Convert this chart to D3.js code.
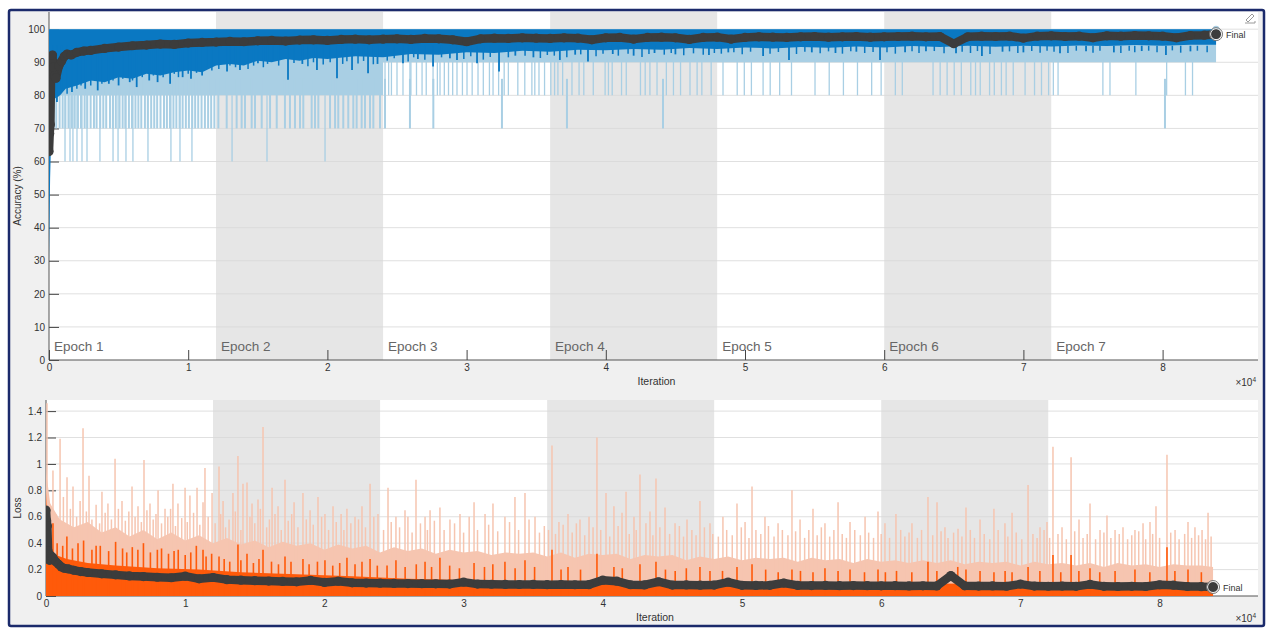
<!DOCTYPE html>
<html><head><meta charset="utf-8">
<script src="https://cdn.jsdelivr.net/npm/d3@7"></script>
<style>
body{margin:0;background:#fff;}
svg{display:block;font-family:"Liberation Sans",Arial,Helvetica,sans-serif;}
</style>
</head><body>
<svg id="c" width="1273" height="632"></svg>
<script>
// ---------------- DATA ----------------
const epochLen = 12000;
const epochStarts = [0, 12000, 24000, 36000, 48000, 60000, 72000];
const epochNames = ["Epoch 1","Epoch 2","Epoch 3","Epoch 4","Epoch 5","Epoch 6","Epoch 7"];
const shadedEpochs = [1, 3, 5];
const finalIter = 83840;
const xTickVals = [0, 10000, 20000, 30000, 40000, 50000, 60000, 70000, 80000];
const accTicks = [0, 10, 20, 30, 40, 50, 60, 70, 80, 90, 100];
const lossTicks = [0, 0.2, 0.4, 0.6, 0.8, 1, 1.2, 1.4];

// Raw mini-batch accuracy: dense floor per epoch and individual drops
const accRawFloor = [80, 80, 90, 90, 90, 90, 90];
const accRawDip70 = [120,330,520,760,980,1180,1400,1640,1850,2080,2300,2560,2750,2990,3230,3420,3680,3900,4110,4380,4590,4800,5070,5290,5480,5740,5960,6210,6420,6630,6890,7100,7340,7560,7770,8010,8260,8470,8690,8940,9150,9380,9600,9830,10050,10290,10500,10720,10960,11200,11430,11650,11880,
 12165,12765,13480,13840,14080,14560,14800,15280,15880,16360,16950,17310,17670,18030,18270,18870,19110,19350,20190,20550,20780,21140,21500,21860,22100,22460,22700,23060,23300,23780,
 24140,25930,27610,32540,37210,44110,80170];
const accRawDip60 = [1150,1510,1720,2010,2370,2730,3660,4600,4960,5530,6030,7110,8760,9410,10270,13150,15660,19830];
const accRawDip80 = [24140,24400,24600,25000,25430,25930,26000,26400,26800,27100,27590,27900,28090,28400,28700,29000,29310,29700,30030,30400,30820,31200,31640,31900,32300,32700,33000,33680,34180,34690,34900,35200,35600,
 36050,36320,36560,36900,37570,38080,38420,39100,39950,40190,40460,41130,41470,42490,42830,43170,43680,44350,44860,45370,46050,46560,46900,47570,
 48420,49440,49950,50460,51300,51810,52490,53340,55030,56050,57070,58080,59100,59780,60800,61300,63510,64020,64520,65030,65540,66220,66560,66900,67570,67910,68420,68760,69270,70120,70800,71300,71810,72150,72490,75710,76220,78080,80290,81640,82150];

// Smoothed training accuracy: lower edge, deep dips and shallow dips
const accSmoothBaseIter = [0,80,200,400,800,1200,2000,3000,4000,5000,6000,7000,8000,9000,10000,11000,12000,13000,14000,15000,16000,17000,18000,19000,20000,22000,24000,26000,28000,30000,32000,34000,36000,38000,40000,42000,44000,46000,48000,50000,52000,54000,56000,58000,60000,62000,64000,66000,68000,70000,72000,74000,76000,78000,80000,82000,83840];
const accSmoothBase = [30,55,75,79,80,82,83,84.5,84,85.5,85,86.5,86,87,87.5,87,89,89.5,89,90.5,90,91,90.5,91.3,91,91.8,91.5,92.5,92.3,93,92.8,93.5,93.2,93.8,93.6,94,93.8,94.3,94,94.5,94.2,94.6,94.4,94.8,94.5,94.9,94.6,95,94.7,95,94.8,95.1,94.9,95.2,95,95.3,95.3];
const accSmoothDipIter = [570,1650,2600,3500,4300,5000,5800,6300,7200,7800,8700,9600,10200,11000,11350,12790,13720,15010,16090,17170,18200,19250,20690,21770,22920,23600,25430,26500,27590,28800,29310,30750,32330,33500,34800,36700,37800,38720,40500,42000,43500,45000,47410,48800,51300,53160,54800,56500,58000,59700,61500,63000,65160,67020,68500,70000,72630,74500,76500,78500,80240,82000];
const accSmoothDip = [78,81,82,81.5,83.5,83,84,82.5,84.5,84,83.5,85.5,85,86,88.7,87.2,87.7,89.7,90.7,84.7,89.5,87.7,85.2,87.7,86.7,89.5,89.7,91,88.7,91.2,90.7,89.7,87.2,92,91.5,90.7,92.3,90.2,92.5,92,92.8,92.4,92.2,93,91.9,90.7,93,92.8,93.2,90.7,93,93.3,92.7,91.9,93.2,93,92.7,93.3,93,93.4,92.2,93.3];
const accSmoothNickIter = [300,900,1300,2000,2300,3000,3800,4600,5300,6000,6700,7500,8200,9000,9300,10000,10600,11700,
 12200,13000,13400,14300,14700,15400,15700,16500,17600,18600,19000,19700,20200,21100,21400,22200,22600,23300,
 24300,24800,25800,26200,27000,28200,29800,30300,31200,31700,33000,34200,35300,35800,
 36300,37200,38200,39300,39800,40900,41600,42600,43100,44200,44700,45600,46300,47000,47800,
 48300,49200,49800,50400,51800,52400,53700,54300,55400,56000,57000,57600,58600,59200,
 60200,60800,62000,62500,63600,64300,65600,66200,66700,67600,69000,69600,70600,71200,71700,
 72200,73200,73800,75000,75500,77000,77600,78000,79000,79600,80700,81300,82500,83200];
const accSmoothNick = [80,82,80.5,82,83,83,83.5,84.5,85,84.5,85.5,86,85.5,86.5,85.5,86.5,86.8,87.5,
 88,89,88.5,88,89,88.5,89.5,89,89.8,88.8,90,89.3,90,89.5,90.3,89.6,90.4,89.4,
 90.5,91.2,90.2,91.5,90.8,91.5,91,91.8,90.8,91.6,91.5,92,91.3,92.2,
 92,91.5,92.4,91.8,92.6,92,92.6,91.6,92.5,92.3,92.8,92.1,92.7,92.3,92.8,
 92.6,93,92.4,93.2,92.6,93.1,92.5,93.2,92.7,93.3,92.6,93.3,92.8,93.1,
 93,92.6,93.3,92.8,93.4,92.7,93.2,92.8,93.4,92.5,93.3,92.8,93.4,92.9,93.5,
 93.2,92.8,93.5,92.9,93.5,92.8,93.5,93,93.5,93,93.6,92.9,93.5,93];

// Validation (shared iterations)
const valIter = [0,50,100,150,200,250,300,400,500,700,900,1100,1300,1600,2000,2500,3000,
 4000,5000,6000,7000,8000,9000,10000,11000,12000,13000,14000,15000,16000,17000,18000,19000,20000,21000,22000,23000,
 24000,25000,26000,27000,28000,29000,30000,31000,32000,33000,34000,35000,36000,37000,38000,39000,40000,41000,42000,43000,
 44000,45000,46000,47000,48000,49000,50000,51000,52000,53000,54000,55000,56000,57000,58000,59000,60000,61000,62000,63000,
 64000,65000,66000,67000,68000,69000,70000,71000,72000,73000,74000,75000,76000,77000,78000,79000,80000,81000,82000,83000,83840];
const valAcc = [63,68.5,71.2,86.7,90.5,92.2,88.5,86,85.2,88.8,90.3,91.8,92.5,92.2,93,93.4,93.6,
 94.2,94.6,95,95.2,95.5,95.4,95.8,96,96.1,96.3,96.2,96.5,96.6,96.4,96.7,96.8,96.6,96.9,97,96.8,
 97,97.1,96.9,97.2,97.1,96.8,96.2,97.1,97.3,97.2,97.4,97.3,97.2,97.4,97.3,96.8,97.4,97.5,97,97.5,
 97.6,97.4,96.9,97.5,97.6,97,97.5,97.7,97.6,97.5,97.7,97.8,97.6,97.7,97.8,97.6,97.7,97.8,97.9,97.7,
 97.8,95.6,97.7,97.9,97.8,97.9,97.3,97.9,98,97.8,97.9,97.4,98,97.9,98.1,98,97.9,97.4,98.1,98.2,98.5];
const valLoss = [0.65,0.57,0.53,0.34,0.3,0.27,0.31,0.3,0.29,0.26,0.24,0.22,0.21,0.205,0.195,0.185,0.178,
 0.168,0.16,0.152,0.147,0.142,0.138,0.15,0.13,0.14,0.124,0.12,0.116,0.113,0.11,0.107,0.118,0.103,0.112,0.1,0.098,
 0.097,0.095,0.094,0.093,0.092,0.09,0.105,0.09,0.089,0.088,0.087,0.088,0.086,0.087,0.085,0.086,0.12,0.112,0.085,0.084,
 0.108,0.083,0.084,0.082,0.083,0.105,0.081,0.08,0.081,0.098,0.08,0.079,0.08,0.078,0.079,0.078,0.077,0.078,0.076,0.077,
 0.076,0.155,0.077,0.075,0.076,0.074,0.09,0.075,0.074,0.075,0.073,0.088,0.073,0.072,0.073,0.072,0.085,0.082,0.072,0.071,0.068];

// Raw mini-batch loss: dense envelope, tall spikes and medium spikes
const lossRawBaseIter = [0,300,1000,2000,3000,4000,5000,6000,7000,8000,9000,10000,11000,12000,13000,14000,15000,16000,17000,18000,19000,20000,21000,22000,23000,24000,25000,26000,27000,28000,29000,30000,31000,32000,33000,34000,35000,36000,37000,38000,39000,40000,41000,42000,43000,44000,45000,46000,47000,48000,49000,50000,51000,52000,53000,54000,55000,56000,57000,58000,59000,60000,61000,62000,63000,64000,65000,66000,67000,68000,69000,70000,71000,72000,73000,74000,75000,76000,77000,78000,79000,80000,81000,82000,83000,83840];
const lossRawBase = [0.95,0.7,0.58,0.52,0.56,0.48,0.52,0.45,0.5,0.43,0.48,0.42,0.46,0.4,0.44,0.39,0.42,0.37,0.41,0.38,0.4,0.35,0.39,0.36,0.38,0.33,0.37,0.34,0.36,0.32,0.35,0.33,0.34,0.31,0.33,0.32,0.33,0.3,0.33,0.29,0.32,0.31,0.32,0.28,0.31,0.3,0.31,0.27,0.3,0.28,0.3,0.27,0.29,0.28,0.29,0.26,0.29,0.27,0.28,0.25,0.28,0.26,0.27,0.25,0.27,0.25,0.27,0.24,0.26,0.25,0.26,0.23,0.26,0.24,0.25,0.23,0.25,0.22,0.25,0.23,0.24,0.22,0.24,0.23,0.23,0.22];
const lossRawSpikeIter = [70,500,1010,1510,1940,2660,3090,4020,4450,4960,5460,6180,6610,7040,7470,8050,8550,9120,9480,9990,10340,10850,11280,11420,11930,12430,12720,13430,13790,14150,14440,14800,15230,15590,16240,16670,17170,17820,18460,18970,19540,20040,20620,21620,22200,22700,23280,23850,24570,25140,25790,26580,27230,27590,28300,29020,29740,30750,31540,32110,32970,33690,34410,35130,36350,36850,37500,38360,39010,39580,40230,40800,41380,41670,42240,42670,43390,43820,44470,45190,46050,46980,47700,48630,49640,50220,50720,51650,52590,53590,54170,55100,55960,56900,57760,58840,59770,60270,61060,62210,63360,64010,64580,65520,66090,67100,68100,68890,69400,70550,71410,71910,72340,72990,73640,74210,75000,75720,76220,76800,77370,78230,78810,79310,79740,80530,81110,82040,82540,83050,83480];
const lossRawSpike = [1.46,0.95,1.19,0.9,0.83,1.27,0.91,0.79,0.7,1.04,0.72,0.83,0.68,1.03,0.7,0.8,0.66,0.85,0.7,0.82,0.76,0.82,0.71,0.97,0.78,0.98,0.72,0.78,1.06,0.85,0.86,0.7,0.73,1.28,0.82,0.68,0.88,0.71,0.78,0.65,0.75,0.62,0.68,0.66,0.6,0.68,0.85,0.62,0.82,0.6,0.65,0.88,0.6,0.65,0.67,0.58,0.62,0.71,0.62,0.7,0.6,0.75,0.78,0.6,1.14,0.56,0.62,0.58,0.6,1.2,0.78,0.68,0.63,0.79,0.6,0.92,0.64,0.89,0.67,0.55,0.58,0.72,0.55,0.6,0.7,0.56,0.83,0.6,0.55,0.8,0.58,0.66,0.55,0.71,0.56,0.6,0.64,0.55,0.62,0.55,0.75,0.71,0.52,0.51,0.67,0.58,0.66,0.55,0.63,0.84,0.52,0.56,1.13,0.52,1.05,0.58,0.7,0.5,0.61,0.5,0.52,0.5,0.55,0.56,0.68,1.07,0.5,0.56,0.52,0.5,0.63];
const lossRawMidIter = [250,700,1250,1750,2200,2450,2900,3300,3600,3850,4250,4700,5200,5700,5950,6400,6850,7250,7700,7900,8300,8750,8950,9300,9750,10150,10600,11050,11650,
 12150,12550,12900,13150,13600,14000,14650,15000,15400,15850,16050,16450,16900,17400,17650,18100,18700,19200,19800,20300,20850,21200,21400,21900,22450,22950,23550,
 24250,24800,25400,26000,26300,26900,27400,27900,28600,29350,30000,30400,31000,31800,32450,33300,33950,34700,35450,35800,
 36100,36600,37150,37800,38100,38700,39300,39850,40500,41100,41900,42400,43100,43600,44100,44800,45500,45800,46400,46700,47300,47900,
 48300,48900,49300,49950,50500,51000,51350,51900,52300,52900,53300,53850,54500,54800,55400,55700,56300,56600,57200,57500,58100,58500,59100,59450,
 60000,60600,61400,61700,62000,62600,62900,63700,64300,64800,65200,65800,66400,66700,67400,67800,68400,69100,69700,70100,70900,71200,71700,
 72100,72700,73300,73900,74500,74800,75400,76000,76500,77100,77700,78000,78500,79000,79500,80000,80800,81400,81800,82300,82800,83300,83700];
const lossRawMid = [0.7,0.62,0.75,0.66,0.6,0.72,0.64,0.58,0.69,0.55,0.63,0.58,0.66,0.57,0.64,0.6,0.56,0.65,0.58,0.62,0.55,0.6,0.66,0.53,0.59,0.56,0.63,0.54,0.6,
 0.55,0.62,0.52,0.58,0.64,0.5,0.6,0.55,0.66,0.52,0.58,0.62,0.5,0.57,0.62,0.52,0.58,0.54,0.6,0.5,0.56,0.62,0.5,0.55,0.58,0.52,0.6,
 0.5,0.56,0.52,0.6,0.48,0.55,0.5,0.57,0.5,0.55,0.48,0.6,0.5,0.54,0.49,0.56,0.5,0.58,0.48,0.53,
 0.5,0.47,0.54,0.48,0.55,0.46,0.52,0.5,0.45,0.53,0.47,0.5,0.55,0.46,0.52,0.47,0.53,0.45,0.5,0.46,0.52,0.47,
 0.45,0.5,0.46,0.52,0.44,0.5,0.47,0.53,0.45,0.5,0.46,0.49,0.44,0.5,0.46,0.52,0.45,0.5,0.47,0.44,0.5,0.46,0.48,0.44,
 0.47,0.44,0.5,0.45,0.48,0.44,0.5,0.46,0.49,0.44,0.48,0.45,0.5,0.44,0.47,0.43,0.5,0.45,0.48,0.43,0.47,0.44,0.5,
 0.44,0.47,0.43,0.49,0.44,0.47,0.43,0.48,0.44,0.47,0.43,0.46,0.49,0.43,0.47,0.44,0.48,0.43,0.47,0.44,0.46,0.43,0.45];

// Smoothed training loss: dense envelope and spikes
const lossSmoothBaseIter = [0,100,300,700,1500,3000,5000,8000,11000,14000,18000,22000,26000,32000,40000,50000,60000,70000,83840];
const lossSmoothBase = [0.8,0.5,0.36,0.31,0.28,0.25,0.23,0.21,0.2,0.18,0.165,0.15,0.13,0.115,0.105,0.1,0.095,0.092,0.09];
const lossSmoothSpikeIter = [200,500,800,1200,1500,1900,2300,2700,3300,3600,3900,4500,5000,5500,5800,6200,6600,7000,7500,8000,8300,8800,9200,9500,10000,10400,10800,11280,11500,11900,
 12430,12800,13200,13790,14000,14440,14900,15300,15590,16200,16700,17170,17600,18460,18900,19500,20040,20600,21100,21620,22200,22700,23280,23800,
 24500,25140,25800,26600,27230,27700,28300,29000,29700,30750,31500,32100,32970,33700,34410,35100,
 36350,37000,37500,38400,39580,40800,41400,42670,43820,44500,45200,46000,46980,47700,
 48600,49640,50720,51700,52600,53590,54200,55100,55960,56900,57760,58800,59770,
 60300,61100,62200,63360,64000,65500,66090,67100,68100,68900,69400,70550,71400,
 72340,72900,73640,74200,75000,75700,76800,78230,79300,80530,81100,82040,83000];
const lossSmoothSpike = [0.5,0.55,0.4,0.38,0.45,0.36,0.4,0.42,0.35,0.38,0.38,0.34,0.41,0.36,0.33,0.37,0.35,0.4,0.33,0.35,0.36,0.32,0.34,0.35,0.31,0.33,0.38,0.35,0.3,0.32,
 0.3,0.28,0.26,0.39,0.27,0.32,0.25,0.28,0.35,0.26,0.24,0.3,0.26,0.28,0.24,0.26,0.27,0.23,0.25,0.29,0.24,0.26,0.28,0.23,
 0.23,0.27,0.22,0.24,0.26,0.22,0.29,0.23,0.21,0.25,0.22,0.24,0.26,0.21,0.27,0.22,
 0.35,0.2,0.22,0.2,0.32,0.22,0.21,0.24,0.26,0.2,0.19,0.21,0.22,0.19,
 0.19,0.22,0.24,0.2,0.18,0.2,0.19,0.18,0.21,0.19,0.2,0.18,0.2,
 0.18,0.19,0.18,0.26,0.19,0.22,0.2,0.19,0.18,0.19,0.18,0.22,0.19,
 0.31,0.18,0.31,0.19,0.21,0.18,0.19,0.2,0.18,0.37,0.19,0.2,0.18];

// ---------------- STYLE ----------------
const C = {
  bg: "#f0f0f0", frame: "#1b2a6b", shade: "#e6e6e6", grid: "#d9d9d9",
  axis: "#555", text: "#333", epoch: "#666",
  rawAcc: "#a9cfe4", smAcc: "#0a78c2", val: "#3c3c3c",
  rawLoss: "#f6c5b0", smLoss: "#ff5a0a"
};

const svg = d3.select("#c");
svg.append("rect").attr("x", 9).attr("y", 10).attr("width", 1255).attr("height", 616)
  .attr("rx", 2).attr("fill", C.bg).attr("stroke", C.frame).attr("stroke-width", 2.5);

function drawPanel(o) {
  const g = svg.append("g");
  const [x0, x1] = [o.left, o.right];
  const [yb, yt] = [o.bottom, o.top];
  const x = d3.scaleLinear().domain([0, 87000]).range([o.left, o.left + 8.7 * 139.2]);
  const y = d3.scaleLinear().domain(o.yDomain).range([yb, yt]);
  const id = "clip" + o.name;
  svg.append("clipPath").attr("id", id).append("rect")
    .attr("x", x0).attr("y", yt).attr("width", x1 - x0).attr("height", yb - yt);

  g.append("rect").attr("x", x0).attr("y", yt).attr("width", x1 - x0).attr("height", yb - yt).attr("fill", "#fff");
  g.selectAll(".sh").data(shadedEpochs).enter().append("rect")
    .attr("x", i => x(epochStarts[i])).attr("y", yt)
    .attr("width", i => x(epochStarts[i] + epochLen) - x(epochStarts[i]))
    .attr("height", yb - yt).attr("fill", C.shade);
  g.selectAll(".gr").data(o.ticks.filter(t => t > 0)).enter().append("line")
    .attr("x1", x0).attr("x2", x1).attr("y1", d => y(d)).attr("y2", d => y(d))
    .attr("stroke", C.grid).attr("stroke-width", 1).attr("opacity", 0.8);

  const ya = g.append("g").attr("transform", `translate(${x0},0)`)
    .call(d3.axisLeft(y).tickValues(o.ticks).tickSize(-10).tickSizeOuter(0).tickPadding(4).tickFormat(o.fmt));
  const xa = g.append("g").attr("transform", `translate(0,${yb})`)
    .call(d3.axisBottom(x).tickValues(xTickVals).tickSize(-10).tickSizeOuter(0).tickPadding(4).tickFormat(d => d / 10000));
  [ya, xa].forEach(a => {
    a.select(".domain").attr("stroke", C.axis);
    a.selectAll(".tick line").attr("stroke", "#444");
    a.selectAll(".tick text").attr("fill", C.text).attr("font-size", 10).attr("font-family", "Liberation Sans, Arial, sans-serif");
  });
  ya.select(".domain").attr("d", `M0,${yb}V${yt}`);
  xa.select(".domain").attr("d", `M${x0},0H${x1}`);

  g.append("text").attr("x", (x0 + x1) / 2 + 3).attr("y", yb + 25).attr("text-anchor", "middle")
    .attr("font-size", 10.5).attr("fill", C.text).text("Iteration");
  const ex = g.append("text").attr("x", 1256).attr("y", yb + 26).attr("text-anchor", "end")
    .attr("font-size", 10).attr("fill", C.text);
  ex.append("tspan").text("×10");
  ex.append("tspan").attr("font-size", 6.5).attr("dy", -4).text("4");
  g.append("text").attr("transform", `translate(21,${(yt + yb) / 2 + 10}) rotate(-90)`)
    .attr("text-anchor", "middle").attr("font-size", 10).attr("fill", C.text).text(o.ylabel);

  const d = g.append("g").attr("clip-path", `url(#${id})`);
  return { g, d, x, y };
}

function spikes(P, iters, vals, from, color, w) {
  P.d.append("g").selectAll("line").data(iters.map((it, i) => [it, Array.isArray(vals) ? vals[i] : vals]))
    .enter().append("line")
    .attr("x1", p => P.x(p[0])).attr("x2", p => P.x(p[0]))
    .attr("y1", P.y(from)).attr("y2", p => P.y(p[1]))
    .attr("stroke", color).attr("stroke-width", w);
}
function validation(P, vals) {
  const pts = valIter.map((it, i) => [it, vals[i]]);
  P.d.append("path").datum(pts).attr("d", d3.line().x(p => P.x(p[0])).y(p => P.y(p[1])))
    .attr("fill", "none").attr("stroke", C.val).attr("stroke-width", 8.5)
    .attr("stroke-linejoin", "round").attr("stroke-linecap", "round");
  P.d.append("g").selectAll("circle").data(pts).enter().append("circle")
    .attr("cx", p => P.x(p[0])).attr("cy", p => P.y(p[1])).attr("r", 4.6).attr("fill", C.val);
  const last = vals[vals.length - 1];
  P.g.append("circle").attr("cx", P.x(finalIter)).attr("cy", P.y(last)).attr("r", 5.5)
    .attr("fill", C.val).attr("stroke", "#fff").attr("stroke-width", 1);
  P.g.append("circle").attr("cx", P.x(finalIter)).attr("cy", P.y(last)).attr("r", 6.5)
    .attr("fill", "none").attr("stroke", "#777").attr("stroke-width", 1);
  P.g.append("text").attr("x", P.x(finalIter) + 10).attr("y", P.y(last) + 3.5)
    .attr("font-size", 9).attr("fill", C.text).text("Final");
}

// ---------- Accuracy panel ----------
const A = drawPanel({ name: "acc", left: 49, right: 1258, top: 12, bottom: 360,
  yDomain: [0, 105.2], ticks: accTicks, fmt: d => d, ylabel: "Accuracy (%)" });

A.g.selectAll(".ep").data(epochStarts).enter().append("text")
  .attr("x", s => A.x(s) + 5).attr("y", 351).attr("font-size", 13.5).attr("fill", C.epoch)
  .text((s, i) => epochNames[i]);

const floorPts = [];
epochStarts.forEach((s, i) => floorPts.push([s, accRawFloor[i]]));
floorPts.push([finalIter, accRawFloor[accRawFloor.length - 1]]);
A.d.append("path").datum(floorPts)
  .attr("d", d3.area().curve(d3.curveStepAfter).x(p => A.x(p[0])).y0(A.y(100)).y1(p => A.y(p[1])))
  .attr("fill", C.rawAcc);
spikes(A, accRawDip80, 80, 91, C.rawAcc, 1.3);
spikes(A, accRawDip70, 70, 85, C.rawAcc, 2);
spikes(A, accRawDip60, 60, 80, C.rawAcc, 1.3);

A.d.append("path").datum(accSmoothBaseIter.map((it, i) => [it, accSmoothBase[i]]))
  .attr("d", d3.area().x(p => A.x(p[0])).y0(A.y(100)).y1(p => A.y(p[1])))
  .attr("fill", C.smAcc);
spikes(A, accSmoothNickIter, accSmoothNick, 95, C.smAcc, 1.5);
spikes(A, accSmoothDipIter, accSmoothDip, 95, C.smAcc, 1.8);

A.g.append("circle").attr("cx", A.x(finalIter)).attr("cy", A.y(100)).attr("r", 3.5).attr("fill", C.rawAcc);
validation(A, valAcc);

// small export icon at top right
const ic = svg.append("g").attr("transform", "translate(1244,11)").attr("fill", "none")
  .attr("stroke", "#9a9a9a").attr("stroke-width", 1);
ic.append("path").attr("d", "M2,9 L8,3 L10,5 L4,11 Z");
ic.append("path").attr("d", "M1,12 H11 M11,10 V12");

// ---------- Loss panel ----------
const L = drawPanel({ name: "loss", left: 46, right: 1258, top: 400, bottom: 596,
  yDomain: [0, 1.484], ticks: lossTicks, fmt: d => String(+d.toFixed(1)), ylabel: "Loss" });

L.d.append("path").datum(lossRawBaseIter.map((it, i) => [it, lossRawBase[i]]))
  .attr("d", d3.area().x(p => L.x(p[0])).y0(L.y(0)).y1(p => L.y(p[1])))
  .attr("fill", C.rawLoss);
spikes(L, lossRawMidIter, lossRawMid, 0, C.rawLoss, 1.5);
spikes(L, lossRawSpikeIter, lossRawSpike, 0, C.rawLoss, 1.5);

L.d.append("path").datum(lossSmoothBaseIter.map((it, i) => [it, lossSmoothBase[i]]))
  .attr("d", d3.area().x(p => L.x(p[0])).y0(L.y(0)).y1(p => L.y(p[1])))
  .attr("fill", C.smLoss);
spikes(L, lossSmoothSpikeIter, lossSmoothSpike, 0, C.smLoss, 1.6);

validation(L, valLoss);
</script>
</body></html>
